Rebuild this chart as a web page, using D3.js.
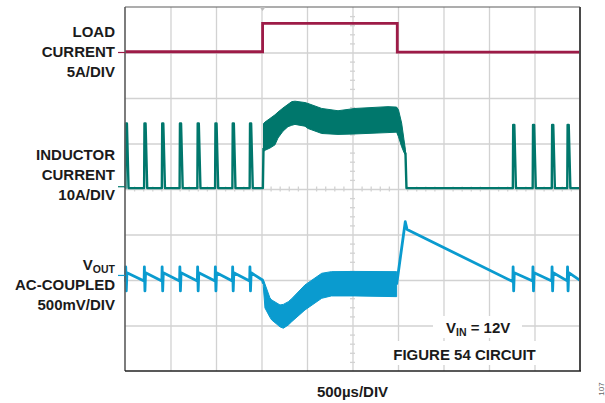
<!DOCTYPE html>
<html>
<head>
<meta charset="utf-8">
<script src="https://cdn.jsdelivr.net/npm/d3@7"></script>
<style>
  html, body { margin: 0; padding: 0; background: #fff; }
  svg { display: block; font-family: "Liberation Sans", Arial, Helvetica, sans-serif; }
  .lbl { font-weight: bold; font-size: 15px; fill: #1b1b1b; }
</style>
</head>
<body>
<svg id="scope" width="605" height="403"></svg>
<script>
// ---- Time base: 10 divisions of 500 µs, 8 vertical divisions ----
const timeGrid = [0, 500, 1000, 1500, 2000, 2500, 3000, 3500, 4000, 4500, 5000];
const divGrid = [-4, -3, -2, -1, 0, 1, 2, 3, 4];

// ---- Load current (A), 5 A/div ----
const loadT = [0, 1512, 1512, 2992, 2992, 5000];
const loadA = [0.08, 0.08, 3.2, 3.2, 0.05, 0.05];

// ---- Inductor current (A), 10 A/div ----
const pulseT = [5, 210, 405, 600, 795, 990, 1180, 1370, 4262, 4480, 4690, 4860];
const pulsePeakA = [14.4, 14.4, 14.4, 14.4, 14.4, 14.4, 14.4, 14.4, 14.1, 14.1, 14.1, 14.1];
const inductorBaseA = 0.2;
const indBandT = [1522, 1538, 1593, 1648, 1681, 1736, 1791, 1832, 1868, 1978, 2011, 2162, 2341, 2527, 2890, 2985, 3005, 3040, 3066, 3082];
const indBandHiA = [14.4, 14.7, 15.5, 16.3, 16.9, 17.8, 18.6, 19.2, 19.3, 19.0, 18.8, 17.7, 17.2, 17.7, 18.1, 18.0, 17.4, 14.5, 10.8, 8.6];
const indBandLoA = [8.2, 8.5, 9.0, 9.7, 11.2, 12.7, 13.7, 14.0, 14.2, 13.8, 13.3, 12.2, 12.0, 12.1, 12.4, 12.5, 11.5, 9.3, 8.0, 7.5];
// edges into and out of the band (null = trace hidden inside the band)
const indStepT = [1515, 1522, null, 3082, 3093];
const indStepA = [0.2, 9.0, null, 8.0, 0.2];

// ---- Output voltage, AC-coupled (mV), 500 mV/div ----
const rippleTopMV = 30, rippleLowMV = -60, glitchHighMV = 95, glitchLowMV = -170;
const voutBandT = [1520, 1538, 1593, 1612, 1703, 1740, 1795, 1832, 1978, 2162, 2268, 2527, 2985];
const voutBandHiMV = [-49, -94, -247, -269, -324, -318, -288, -255, -104, 24, 42, 44, 42];
const voutBandLoMV = [-123, -357, -460, -489, -565, -580, -544, -508, -379, -251, -225, -225, -233];
const voutRecoveryT = [1510, 1522, null, 2985, 3080, 3100, 4255];
const voutRecoveryMV = [-50, -90, null, -100, 590, 505, -65];
const voutEndT = 5000, voutEndMV = -55;

// ---- Text ----
const channelLabels = [
  { lines: ["LOAD", "CURRENT", "5A/DIV"], base: [36.5, 56.5, 76.5] },
  { lines: ["INDUCTOR", "CURRENT", "10A/DIV"], base: [159.5, 179.5, 199.5] },
  { lines: ["AC-COUPLED", "500mV/DIV"], base: [290, 310] }
];
const timeLabel = "500µs/DIV";

const colLoad = "#9d1b47", colInd = "#00776c", colOut = "#0a9bcf";
const gridCol = "#d2d2d2";

const L = 125, R = 580, T = 7, B = 371;
const svg = d3.select("#scope");

const x = d3.scaleLinear().domain([0, 5000]).range([L, R]);
const yDiv = d3.scaleLinear().domain([-4, 4]).range([B, T]);
const yLoad = d3.scaleLinear().domain([-35, 5]).range([B, T]);
const yInd = d3.scaleLinear().domain([-40, 40]).range([B, T]);
const yOut = d3.scaleLinear().domain([-1050, 2950]).range([B, T]);

// ---- Graticule ----
const grid = svg.append("g");
grid.append("g")
  .attr("transform", `translate(0,${T})`)
  .call(d3.axisTop(x).tickValues(timeGrid.slice(1, -1)).tickSize(-(B - T)).tickFormat(""))
  .call(g => g.select(".domain").remove());
grid.append("g")
  .attr("transform", `translate(${L},0)`)
  .call(d3.axisLeft(yDiv).tickValues(divGrid.slice(1, -1)).tickSize(-(R - L)).tickFormat(""))
  .call(g => g.select(".domain").remove());
// minor ticks along the centre lines, 5 per division
const minorT = d3.range(100, 5000, 100).filter(v => v % 500 !== 0);
const minorD = d3.range(-3.8, 4, 0.2).map(v => +v.toFixed(1)).filter(v => Math.abs(v % 1) > 0.01);
grid.append("g")
  .attr("transform", `translate(0,${yDiv(0) - 2.5})`)
  .call(d3.axisBottom(x).tickValues(minorT).tickSize(5).tickFormat(""))
  .call(g => g.select(".domain").remove());
grid.append("g")
  .attr("transform", `translate(${x(2500) - 2.5},0)`)
  .call(d3.axisRight(yDiv).tickValues(minorD).tickSize(5).tickFormat(""))
  .call(g => g.select(".domain").remove());
grid.selectAll(".tick line").attr("stroke", gridCol).attr("stroke-width", 1.3);

// ---- Traces ----
const lineOf = (xs, ys, ysc) => d3.line().x((d, i) => x(xs[i])).y((d, i) => ysc(ys[i]))(xs);
const gapLine = ysc => d3.line().defined(d => d[0] !== null).x(d => x(d[0])).y(d => ysc(d[1]));

// load current
svg.append("path")
  .attr("d", lineOf(loadT, loadA, yLoad))
  .attr("fill", "none").attr("stroke", colLoad).attr("stroke-width", 2.8);

// inductor current: switching pulses on a flat baseline, ripple band during the load step
const indPts = [[0, inductorBaseA]];
pulseT.forEach((t, i) => {
  if (t > 3000 && indPts[indPts.length - 1][0] < 3000) {
    indStepT.forEach((st, k) => indPts.push([st, indStepA[k]]));
  }
  indPts.push([t, inductorBaseA], [t + 4, pulsePeakA[i]], [t + 16, pulsePeakA[i]], [t + 34, inductorBaseA]);
});
indPts.push([5000, inductorBaseA]);
svg.append("path")
  .attr("d", gapLine(yInd)(indPts))
  .attr("fill", "none").attr("stroke", colInd).attr("stroke-width", 2.4).attr("stroke-linejoin", "round");
svg.append("path")
  .attr("d", d3.area().x(d => x(d)).y0((d, i) => yInd(indBandLoA[i])).y1((d, i) => yInd(indBandHiA[i]))(indBandT))
  .attr("fill", colInd).attr("stroke", colInd).attr("stroke-width", 1);

// output voltage: sawtooth ripple with switching glitches, undershoot band and overshoot
const outPts = [[0, rippleLowMV + 10]];
const addRipple = t => {
  outPts.push([t, rippleLowMV], [t + 3, glitchHighMV], [t + 9, glitchLowMV], [t + 16, rippleTopMV]);
};
pulseT.filter(t => t < 1500).forEach(addRipple);
voutRecoveryT.forEach((t, i) => outPts.push([t, voutRecoveryMV[i]]));
pulseT.filter(t => t > 3000).forEach(addRipple);
outPts.push([voutEndT, voutEndMV]);
svg.append("path")
  .attr("d", gapLine(yOut)(outPts))
  .attr("fill", "none").attr("stroke", colOut).attr("stroke-width", 2.8).attr("stroke-linejoin", "round");
svg.append("path")
  .attr("d", d3.area().x(d => x(d)).y0((d, i) => yOut(voutBandLoMV[i])).y1((d, i) => yOut(voutBandHiMV[i]))(voutBandT))
  .attr("fill", colOut).attr("stroke", colOut).attr("stroke-width", 1);

// ---- Frame ----
const frame = svg.append("g");
frame.append("line").attr("x1", L).attr("x2", R).attr("y1", T).attr("y2", T).attr("stroke", "#5c5c5c").attr("stroke-width", 1.2);
frame.append("line").attr("x1", L).attr("x2", L).attr("y1", T).attr("y2", B).attr("stroke", "#5c5c5c").attr("stroke-width", 1.6);
frame.append("line").attr("x1", R).attr("x2", R).attr("y1", T).attr("y2", B).attr("stroke", "#4a4a4a").attr("stroke-width", 2);
frame.append("line").attr("x1", L).attr("x2", R + 1).attr("y1", B).attr("y2", B).attr("stroke", "#222").attr("stroke-width", 1.6);

// trigger position marker
svg.append("path")
  .attr("d", `M${x(1512) - 3},${T} L${x(1512) + 3},${T} L${x(1512)},${T + 4} Z`)
  .attr("fill", "#bdbdbd");

// channel ground markers
[[yLoad(0), colLoad], [yInd(0.5), colInd], [yOut(0), colOut]].forEach(([yy, c]) => {
  svg.append("line").attr("x1", L - 7).attr("x2", L).attr("y1", yy).attr("y2", yy)
    .attr("stroke", c).attr("stroke-width", 1.2);
});

// ---- Labels ----
channelLabels.forEach(ch => {
  ch.lines.forEach((s, i) => {
    svg.append("text").attr("class", "lbl").attr("x", 115).attr("y", ch.base[i])
      .attr("text-anchor", "end").text(s);
  });
});
const vout = svg.append("text").attr("class", "lbl").attr("x", 115).attr("y", 270).attr("text-anchor", "end");
vout.append("tspan").text("V");
vout.append("tspan").attr("font-size", "10.5px").attr("dy", 3).text("OUT");

// annotation boxes
svg.append("rect").attr("x", 433).attr("y", 316).attr("width", 89).attr("height", 22).attr("fill", "#fff");
svg.append("rect").attr("x", 388).attr("y", 341).attr("width", 152).attr("height", 24).attr("fill", "#fff");
const vin = svg.append("text").attr("class", "lbl").attr("x", 446).attr("y", 332.5);
vin.append("tspan").text("V");
vin.append("tspan").attr("font-size", "10.5px").attr("dy", 3).text("IN");
vin.append("tspan").attr("dy", -3).text(" = 12V");
svg.append("text").attr("class", "lbl").attr("x", 464.5).attr("y", 359.5).attr("text-anchor", "middle").text("FIGURE 54 CIRCUIT");

svg.append("text").attr("class", "lbl").attr("x", x(2500)).attr("y", 397).attr("text-anchor", "middle").text(timeLabel);
svg.append("text").attr("transform", "translate(604,389) rotate(-90)")
  .attr("text-anchor", "middle").attr("font-size", "8px").attr("fill", "#666").text("107");
</script>
</body>
</html>
